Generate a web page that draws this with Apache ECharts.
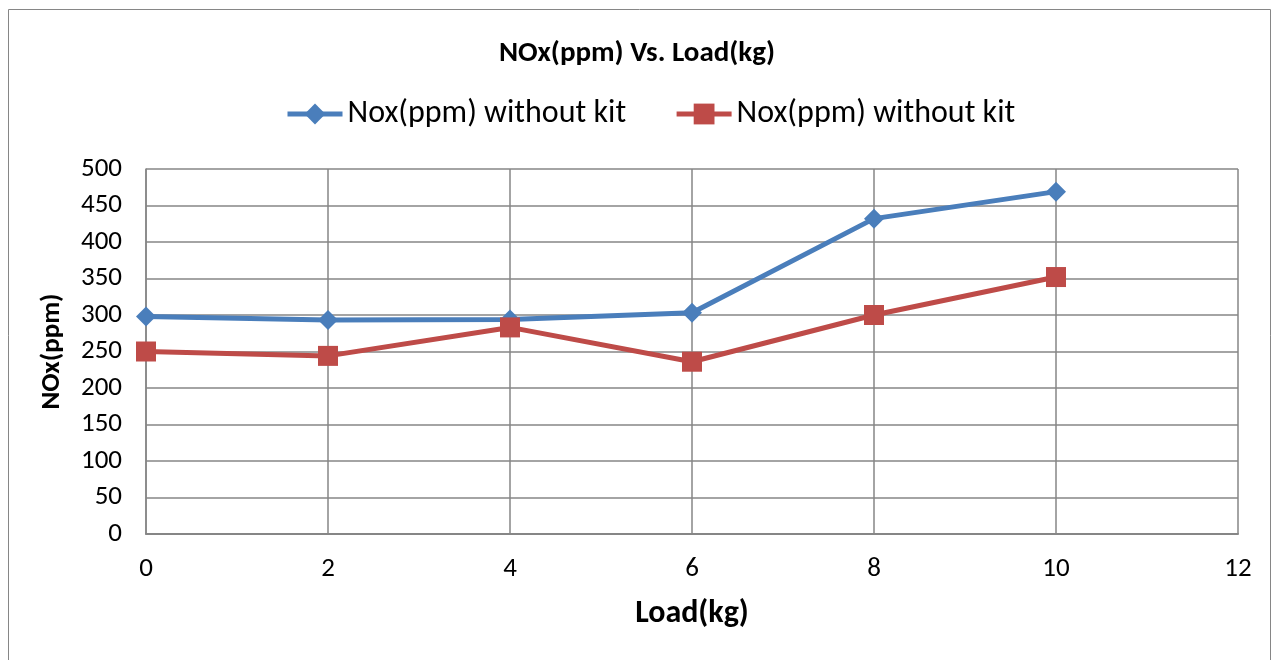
<!DOCTYPE html>
<html><head><meta charset="utf-8">
<script src="https://cdn.jsdelivr.net/npm/echarts@6/dist/echarts.min.js"></script>
<style>html,body{margin:0;padding:0;background:#fff}#c{width:1274px;height:660px}</style>
</head><body><div id="c"></div>
<script>
const loads = [0, 2, 4, 6, 8, 10];
const noxSeriesA = [298, 293, 294, 303, 432, 469];
const noxSeriesB = [250, 244, 283, 236, 300, 352];
const seriesNames = ['Nox(ppm) without kit', 'Nox(ppm) without kit '];
const xTicks = { min: 0, max: 12, interval: 2 };
const yTicks = { min: 0, max: 500, interval: 50 };

const FONT = "Carlito, 'Liberation Sans Narrow', 'Open Sans', sans-serif";
const chart = echarts.init(document.getElementById('c'));
const pair = (xs, ys) => xs.map((x, i) => [x, ys[i]]);
chart.setOption({
  animation: false,
  graphic: [{ type: 'rect', shape: { x: 8.5, y: 9.5, width: 1262, height: 670 }, style: { fill: 'none', stroke: '#868686', lineWidth: 1 } }],
  title: { text: 'NOx(ppm) Vs. Load(kg)', left: 'center', top: 34,
    textStyle: { fontFamily: FONT, fontSize: 29, fontWeight: 'bold', color: '#000' } },
  legend: { top: 93, left: 280, itemGap: 48, itemWidth: 55, itemHeight: 26,
    textStyle: { fontFamily: FONT, fontSize: 32, color: '#000' },
    lineStyle: { width: 5 },
    data: seriesNames },
  grid: { left: 146, right: 36, top: 169, bottom: 126 },
  xAxis: { type: 'value', min: xTicks.min, max: xTicks.max, interval: xTicks.interval,
    name: 'Load(kg)', nameLocation: 'middle', nameGap: 64,
    nameTextStyle: { fontFamily: FONT, fontSize: 32, fontWeight: 'bold', color: '#000' },
    axisLine: { lineStyle: { color: '#868686', width: 2 } }, axisTick: { show: false },
    axisLabel: { fontFamily: FONT, fontSize: 27, color: '#000', margin: 22 },
    splitLine: { show: true, lineStyle: { color: '#868686', width: 1.5 } } },
  yAxis: { type: 'value', min: yTicks.min, max: yTicks.max, interval: yTicks.interval,
    name: 'NOx(ppm)', nameLocation: 'middle', nameGap: 80, nameRotate: 90,
    nameTextStyle: { fontFamily: FONT, fontSize: 27, fontWeight: 'bold', color: '#000' },
    axisLine: { show: true, lineStyle: { color: '#868686', width: 1.5 } }, axisTick: { show: false },
    axisLabel: { fontFamily: FONT, fontSize: 27, color: '#000', margin: 24 },
    splitLine: { show: true, lineStyle: { color: '#868686', width: 1.5 } } },
  series: [
    { name: seriesNames[0], type: 'line', data: pair(loads, noxSeriesA), symbol: 'diamond', symbolSize: 20,
      lineStyle: { color: '#4a7ebb', width: 5 }, itemStyle: { color: '#4a7ebb' } },
    { name: seriesNames[1], type: 'line', data: pair(loads, noxSeriesB), symbol: 'rect', symbolSize: 20,
      lineStyle: { color: '#be4b48', width: 5 }, itemStyle: { color: '#be4b48' } }
  ]
});
</script></body></html>
